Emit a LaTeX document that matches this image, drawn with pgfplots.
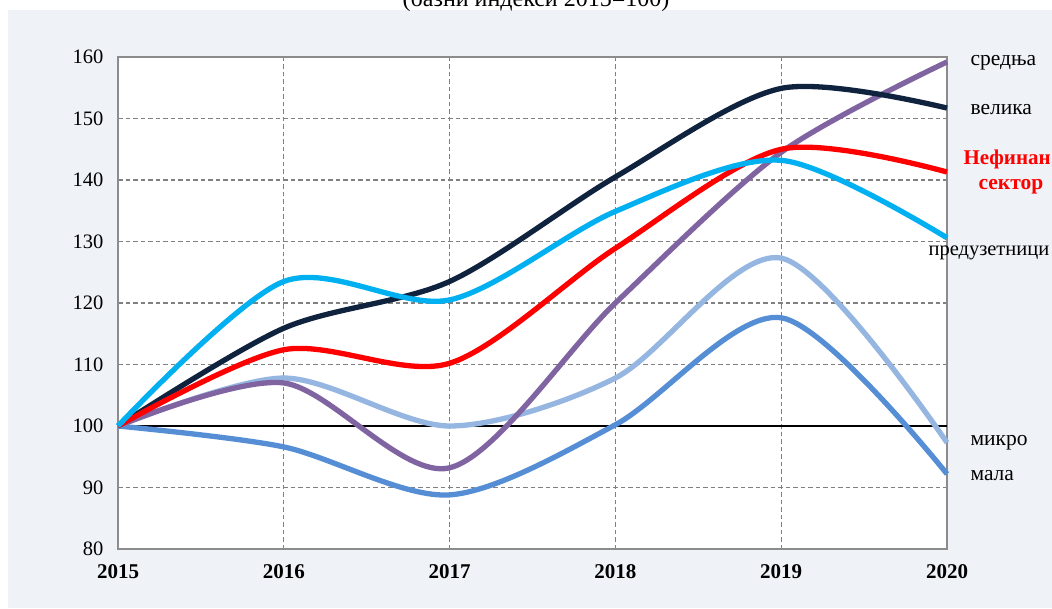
\documentclass[border=0pt]{standalone}
\usepackage{pgfplots}
\pgfplotsset{compat=1.18}
\usepackage{fontspec}
\setmainfont{Liberation Serif}
\definecolor{bgpanel}{RGB}{239,243,248}
\definecolor{cnavy}{RGB}{16,35,62}
\definecolor{cpurple}{RGB}{128,100,162}
\definecolor{cred}{RGB}{255,0,0}
\definecolor{ccyan}{RGB}{0,176,240}
\definecolor{clight}{RGB}{149,182,225}
\definecolor{cmed}{RGB}{85,142,213}
\definecolor{cgrid}{RGB}{128,128,128}
\definecolor{caxis}{RGB}{140,140,140}

\pgfplotstableread{
year velika sredna nefin preduz mikro mala
2015 100   100   100   100   100   100
2016 115.9 107.0 112.4 123.5 107.8 96.6
2017 123.5 93.2  110.2 120.5 100.0 88.8
2018 140.5 120.0 128.9 134.9 107.8 100.2
2019 154.9 144.5 145.0 143.2 127.3 117.6
2020 151.7 159.2 141.3 130.6 97.3  92.2
}\datatable

\begin{document}
\begin{tikzpicture}[x=1pt,y=1pt]
\useasboundingbox (0,0) rectangle (1052,608);
\clip (0,0) rectangle (1052,608);
\fill[white] (0,0) rectangle (1052,608);
\fill[bgpanel] (8,0) rectangle (1052,598);
\node[anchor=base, font=\fontsize{24}{28}\selectfont] at (536,601) {(базни индекси 2015=100)};
\begin{axis}[
  at={(118pt,59pt)}, anchor=south west,
  scale only axis, width=829pt, height=492pt,
  xmin=2015, xmax=2020, ymin=80, ymax=160,
  xtick={2015,2016,2017,2018,2019,2020},
  ytick={80,90,100,110,120,130,140,150,160},
  major tick length=0pt,
  /pgf/number format/1000 sep={},
  /pgf/number format/assume math mode=true,
  ticklabel style={font=\fontsize{20.5}{24}\selectfont},
  xticklabel style={font=\fontsize{21}{24}\selectfont\bfseries, yshift=-12pt},
  yticklabel style={xshift=-11pt},
  axis line style={caxis, line width=2.5pt},
  axis background/.style={fill=white},
  xmajorgrids, ymajorgrids,
  major grid style={cgrid, line width=1.3pt, dash pattern=on 4.5pt off 3pt},
  clip=false,
  every axis plot/.append style={line width=5.3pt, smooth, tension=0.5, no markers},
]
\addplot[black, line width=2.4pt, sharp plot] coordinates {(2015,100) (2020,100)};
\addplot[cmed] table[x=year,y=mala] {\datatable};
\addplot[clight] table[x=year,y=mikro] {\datatable};
\addplot[cpurple] table[x=year,y=sredna] {\datatable};
\addplot[cnavy] table[x=year,y=velika] {\datatable};
\addplot[cred] table[x=year,y=nefin] {\datatable};
\addplot[ccyan] table[x=year,y=preduz] {\datatable};

\node[anchor=west, font=\fontsize{21.5}{24}\selectfont, xshift=20pt] at (axis cs:2020,159) {средња};
\node[anchor=west, font=\fontsize{21.5}{24}\selectfont, xshift=20pt] at (axis cs:2020,151.5) {велика};
\node[anchor=west, font=\fontsize{21}{24}\selectfont\bfseries, text=cred, xshift=13pt] at (axis cs:2020,143.3) {Нефинан};
\node[anchor=west, font=\fontsize{21.5}{24}\selectfont\bfseries, text=cred, xshift=28pt] at (axis cs:2020,138.9) {сектор};
\node[anchor=west, font=\fontsize{20.5}{24}\selectfont, xshift=-22pt] at (axis cs:2020,128.1) {предузетници};
\node[anchor=west, font=\fontsize{21.5}{24}\selectfont, xshift=20pt] at (axis cs:2020,97.2) {микро};
\node[anchor=west, font=\fontsize{21.5}{24}\selectfont, xshift=20pt] at (axis cs:2020,92) {мала};
\end{axis}
\end{tikzpicture}
\end{document}
